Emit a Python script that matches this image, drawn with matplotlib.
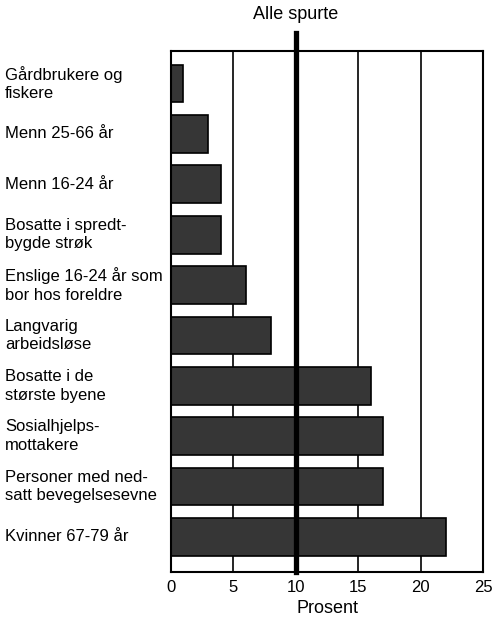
import matplotlib.pyplot as plt
from matplotlib.transforms import blended_transform_factory

# ---------- data ----------
groups = [
    "Gårdbrukere og\nfiskere",
    "Menn 25-66 år",
    "Menn 16-24 år",
    "Bosatte i spredt-\nbygde strøk",
    "Enslige 16-24 år som\nbor hos foreldre",
    "Langvarig\narbeidsløse",
    "Bosatte i de\nstørste byene",
    "Sosialhjelps-\nmottakere",
    "Personer med ned-\nsatt bevegelsesevne",
    "Kvinner 67-79 år",
]
values = [1, 3, 4, 4, 6, 8, 16, 17, 17, 22]
all_respondents = 10
xticks = [0, 5, 10, 15, 20, 25]

FONT = ["Liberation Sans Narrow", "Liberation Sans", "DejaVu Sans"]
plt.rcParams["font.family"] = FONT

# ---------- plot ----------
fig = plt.figure(figsize=(4.94, 6.28), dpi=100)
ax = fig.add_axes([0.346, 0.089, 0.632, 0.830])

ypos = list(range(len(groups)))

for x in [5, 15, 20, 25]:
    ax.axvline(x, color="black", lw=1.2, zorder=1)

ax.barh(ypos, values, height=0.75, color="#363636", edgecolor="black",
        linewidth=1.2, zorder=2)

ax.axvline(all_respondents, ymin=0, ymax=1.035, color="black", lw=3.8,
           clip_on=False, zorder=3)
ax.text(all_respondents, 1.069, "Alle spurte",
        transform=blended_transform_factory(ax.transData, ax.transAxes),
        ha="center", va="center", fontsize=13)

ax.set_xlim(0, 25)
ax.set_ylim(9.7, -0.65)
ax.set_xticks(xticks)
ax.set_xticklabels([str(t) for t in xticks], fontsize=12)
ax.set_yticks([])
ax.tick_params(axis="x", length=0, pad=6)
ax.set_xlabel("Prosent", fontsize=13, labelpad=3)

for s in ax.spines.values():
    s.set_linewidth(1.5)

trans = blended_transform_factory(fig.transFigure, ax.transData)
for y, label in zip(ypos, groups):
    ax.text(5 / 494, y, label, transform=trans, ha="left", va="center",
            fontsize=12, linespacing=1.3)

fig.savefig("out.png", dpi=100)
plt.close(fig)
